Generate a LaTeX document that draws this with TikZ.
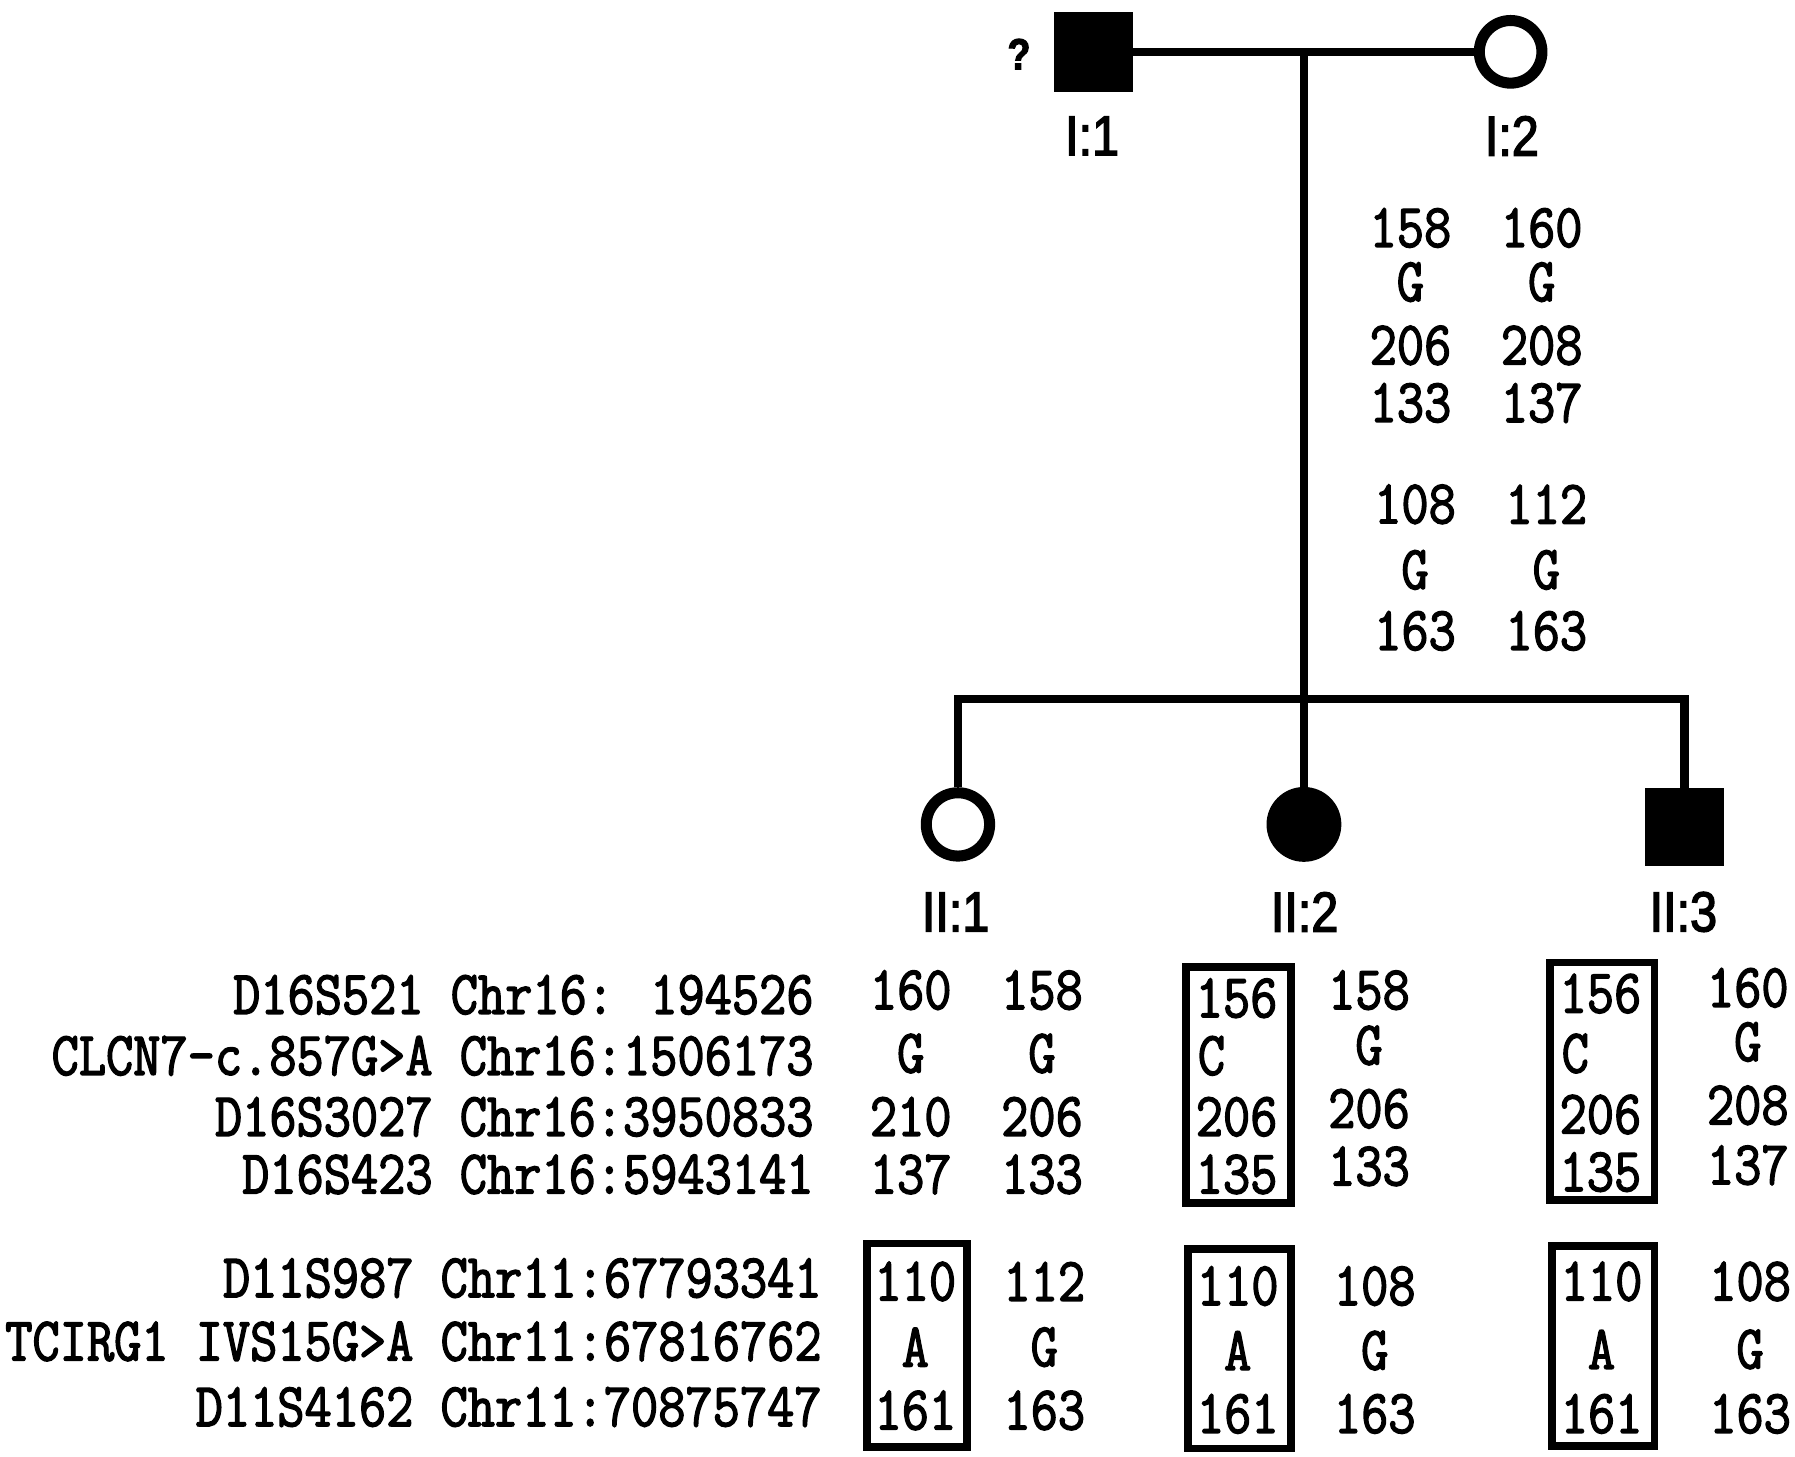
\documentclass[tikz,border=0pt]{standalone}
\usepackage{fontspec}
\setmainfont{Liberation Serif}
\newfontfamily\gfont[FakeStretch=0.85,FakeBold=2.2]{Latin Modern Mono}
\newfontfamily\lfont[FakeStretch=0.86,FakeBold=2.5]{Liberation Sans}
\begin{document}
\begin{tikzpicture}[x=0.5pt,y=-0.5pt,
  ln/.style={line width=3.6pt},
  gt/.style={font=\gfont\fontsize{27}{28}\selectfont, inner sep=0pt},
  lab/.style={font=\lfont\fontsize{24.5}{26}\selectfont, inner sep=0pt},
  male/.style={rectangle, draw, fill=black, line width=2pt, inner sep=0pt},
  female/.style={circle, draw, line width=4.8pt, inner sep=0pt},
  hbox/.style={draw, line width=3.4pt}]
\useasboundingbox (0,0) rectangle (1559,1265.4);

% Generation I
\node[font=\lfont\bfseries\fontsize{19}{20}\selectfont, inner sep=0pt] (q) at (885,47) {?};
\node[male, minimum size=32.5pt] (I1) at (949.5,45) {};
\node[female, minimum size=27.2pt] (I2) at (1312,45) {};
\node[lab] (lI1) at (948.5,118) {I:1};
\node[lab] (lI2) at (1313,118) {I:2};
\draw[ln] (I1) -- (I2);
\coordinate (m) at (1132.5,45);
\coordinate (s) at (1132.5,607);
\coordinate (s1) at (832,607);
\coordinate (s3) at (1463,607);
\draw[ln] (m) -- (s);

% I:2 genotype
\foreach \y/\a/\b in {198/158/160, 245/G/G, 300/206/208, 350/133/137}
  {\node[gt] at (1225,\y) {\a}; \node[gt] at (1339,\y) {\b};}
\foreach \y/\a/\b in {438/108/112, 495/G/G, 548/163/163}
  {\node[gt] at (1229,\y) {\a}; \node[gt] at (1343,\y) {\b};}

% Generation II
\node[female, minimum size=27.5pt] (II1) at (832,716) {};
\node[circle, draw, fill=black, line width=2pt, inner sep=0pt, minimum size=30.5pt] (II2) at (1132.5,716) {};
\node[male, minimum size=32pt] (II3) at (1463,718) {};
\draw[ln] (II1.north) -- (s1) -- (s3) -- (II3.north);
\draw[ln] (s) -- (II2.north);
\node[lab] (lII1) at (830,792) {II:1};
\node[lab] (lII2) at (1133,792) {II:2};
\node[lab] (lII3) at (1462,792) {II:3};

% marker labels
\foreach \y/\n in {864/{D16S521 Chr16: 194526}, 917/{CLCN7-c.857G>A Chr16:1506173}, 970/{D16S3027 Chr16:3950833}, 1020/{D16S423 Chr16:5943141}}
  {\node[gt, anchor=east] at (707,\y) {\n};}
\foreach \y/\n in {1110/{D11S987 Chr11:67793341}, 1165/{TCIRG1 IVS15G>A Chr11:67816762}, 1222/{D11S4162 Chr11:70875747}}
  {\node[gt, anchor=east] at (714,\y) {\n};}

% II:1 genotypes
\foreach \y/\a/\b in {860/160/158, 915/G/G, 970/210/206, 1020/137/133}
  {\node[gt] at (791,\y) {\a}; \node[gt] at (905,\y) {\b};}
\foreach \y/\a/\b in {1113/110/112, 1170/A/G, 1225/161/163}
  {\node[gt] at (795,\y) {\a}; \node[gt] at (907,\y) {\b};}
\draw[hbox] (753,1080) rectangle (840,1257);

% II:2 genotypes
\foreach \y/\a in {867/156, 970/206, 1020/135} {\node[gt] at (1074,\y) {\a};}
\node[gt, anchor=west] at (1040,917) {C};
\foreach \y/\b in {860/158, 908/G, 963/206, 1013/133} {\node[gt] at (1189,\y) {\b};}
\draw[hbox] (1030,840) rectangle (1121,1045);
\foreach \y/\a/\b in {1117/110/108, 1173/A/G, 1228/161/163}
  {\node[gt] at (1075,\y) {\a}; \node[gt] at (1194,\y) {\b};}
\draw[hbox] (1032,1085) rectangle (1121,1258);

% II:3 genotypes
\foreach \y/\a in {863/156, 968/206, 1018/135} {\node[gt] at (1390,\y) {\a};}
\node[gt, anchor=west] at (1356,915) {C};
\foreach \y/\b in {858/160, 905/G, 960/208, 1012/137} {\node[gt] at (1518,\y) {\b};}
\draw[hbox] (1346,836) rectangle (1437,1042);
\foreach \y/\a/\b in {1113/110/108, 1172/A/G, 1228/161/163}
  {\node[gt] at (1391,\y) {\a}; \node[gt] at (1520,\y) {\b};}
\draw[hbox] (1348,1082) rectangle (1437,1256);
\end{tikzpicture}
\end{document}
